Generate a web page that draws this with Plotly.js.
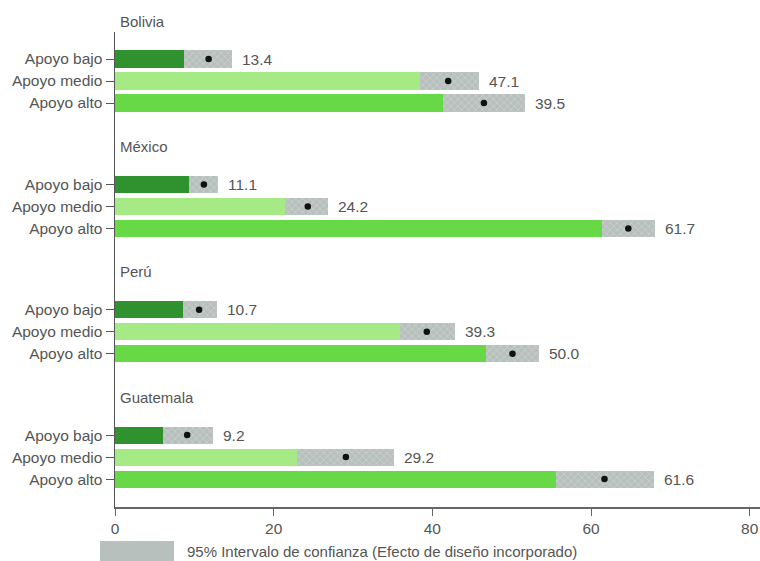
<!DOCTYPE html>
<html>
<head>
<meta charset="utf-8">
<script src="https://cdn.plot.ly/plotly-3.0.1.min.js"></script>
<style>html,body{margin:0;padding:0;background:#fff;}#chart{width:760px;height:561px;}</style>
</head>
<body>
<div id="chart"></div>
<script>
// ---- data ----
const countries = ['Bolivia', 'México', 'Perú', 'Guatemala'];
const levels = ['Apoyo bajo', 'Apoyo medio', 'Apoyo alto'];
// lower bound of the 95% CI (green bar ends here)
const ciLower = [
  [8.7, 38.5, 41.3],
  [9.3, 21.4, 61.4],
  [8.6, 35.9, 46.7],
  [6.0, 22.9, 55.6]
];
// upper bound of the 95% CI
const ciUpper = [
  [14.8, 45.9, 51.7],
  [13.0, 26.9, 68.1],
  [12.9, 42.8, 53.5],
  [12.4, 35.2, 68.0]
];
// point estimates (black dots)
const pointEst = [
  [11.8, 42.0, 46.5],
  [11.2, 24.3, 64.7],
  [10.6, 39.3, 50.1],
  [9.1, 29.1, 61.7]
];
// printed value labels
const valueLabels = [
  [13.4, 47.1, 39.5],
  [11.1, 24.2, 61.7],
  [10.7, 39.3, 50.0],
  [9.2, 29.2, 61.6]
];
const xTicks = [0, 20, 40, 60, 80];
const legendText = '95% Intervalo de confianza (Efecto de diseño incorporado)';

// ---- styling ----
const levelColors = ['#2f922f', '#a6ea86', '#67d947'];
const ciColor = '#b7c0bc';
const ciHatch = '#d3d9d6';
const font = 'Liberation Sans, Arial, sans-serif';
const textColor = '#555555';
const groupStep = 5.7;
const fs = 15.5;

const traces = [];
const tickvals = [], ticktext = [];
const annotations = [];

levels.forEach((lev, r) => {
  const ys = [], xs = [];
  countries.forEach((c, g) => { ys.push(g * groupStep + r); xs.push(ciLower[g][r]); });
  traces.push({
    type: 'bar', orientation: 'h', y: ys, x: xs, base: 0,
    width: 0.78, marker: {color: levelColors[r], line: {width: 0}},
    hoverinfo: 'skip', showlegend: false
  });
});

// CI bars
(function () {
  const ys = [], xs = [], bs = [];
  countries.forEach((c, g) => levels.forEach((l, r) => {
    ys.push(g * groupStep + r);
    bs.push(ciLower[g][r]);
    xs.push(ciUpper[g][r] - ciLower[g][r]);
  }));
  traces.push({
    type: 'bar', orientation: 'h', y: ys, x: xs, base: bs,
    width: 0.78,
    marker: {color: ciColor, line: {width: 0},
      pattern: {shape: 'x', bgcolor: ciColor, fgcolor: ciHatch, size: 5, solidity: 0.2}},
    hoverinfo: 'skip', showlegend: false
  });
})();

// dots
(function () {
  const ys = [], xs = [];
  countries.forEach((c, g) => levels.forEach((l, r) => {
    ys.push(g * groupStep + r); xs.push(pointEst[g][r]);
  }));
  traces.push({
    type: 'scatter', mode: 'markers', y: ys, x: xs,
    marker: {color: '#111', size: 6.5}, hoverinfo: 'skip', showlegend: false
  });
})();

countries.forEach((c, g) => {
  levels.forEach((l, r) => {
    const y = g * groupStep + r;
    tickvals.push(y); ticktext.push(l);
    annotations.push({
      x: ciUpper[g][r], y: y, xref: 'x', yref: 'y', xanchor: 'left', yanchor: 'middle',
      xshift: 8, text: valueLabels[g][r].toFixed(1), showarrow: false,
      font: {family: font, size: fs, color: textColor}
    });
  });
  annotations.push({
    x: 0, y: g * groupStep, xref: 'x', yref: 'y', xanchor: 'left', yanchor: 'middle',
    xshift: 3, yshift: 38, text: c, showarrow: false,
    font: {family: font, size: fs - 0.5, color: textColor}
  });
});

const M = {l: 115, r: 0, t: 32, b: 54};
const plotW = 760 - M.l - M.r, plotH = 561 - M.t - M.b;
const px2x = px => (px - M.l) / plotW;
const py2y = py => (561 - M.b - py) / plotH;

annotations.push({
  x: px2x(185), y: py2y(551), xref: 'paper', yref: 'paper', xanchor: 'left', yanchor: 'middle',
  text: legendText, showarrow: false,
  font: {family: font, size: fs - 0.5, color: textColor}
});

const layout = {
  width: 760, height: 561,
  margin: M,
  paper_bgcolor: '#ffffff', plot_bgcolor: '#ffffff',
  barmode: 'overlay', bargap: 0,
  showlegend: false,
  font: {family: font, size: fs, color: textColor},
  xaxis: {
    range: [0, 81.3], tickvals: xTicks, ticktext: xTicks.map(String),
    showgrid: false, zeroline: false, showline: true, linecolor: '#666', linewidth: 1.5,
    ticks: 'outside', ticklen: 7, tickcolor: '#666', tickwidth: 1,
    tickfont: {family: font, size: fs, color: textColor}, fixedrange: true
  },
  yaxis: {
    range: [20.37, -1.23], tickvals: tickvals, ticktext: ticktext,
    showgrid: false, zeroline: false, showline: true, linecolor: '#555', linewidth: 1.5,
    ticks: 'outside', ticklen: 8, tickcolor: '#555', tickwidth: 1,
    tickfont: {family: font, size: fs, color: textColor}, fixedrange: true
  },
  annotations: annotations,
  shapes: [{
    type: 'rect', xref: 'paper', yref: 'paper',
    x0: px2x(100), x1: px2x(174), y0: py2y(561), y1: py2y(541),
    fillcolor: ciColor, line: {width: 0}
  }]
};

Plotly.newPlot('chart', traces, layout, {displayModeBar: false, staticPlot: true});
</script>
</body>
</html>
